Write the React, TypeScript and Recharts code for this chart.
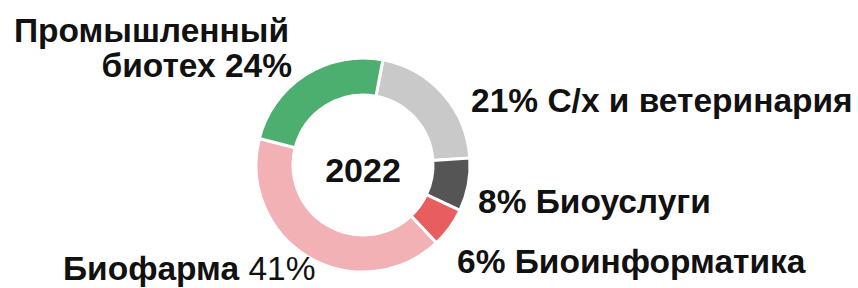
import React from 'react';
import { PieChart, Pie, Cell } from 'recharts';

// Segments, clockwise from the top
const categories = ['С/х и ветеринария', 'Биоуслуги', 'Биоинформатика', 'Биофарма', 'Промышленный биотех'];
const shares = [21, 8, 6, 41, 24];
const sliceColors = ['#c9c9c9', '#555555', '#e85d5d', '#f2b1b4', '#4cae6f'];
const centerLabel = '2022';

const data = categories.map((name, i) => ({ name, value: shares[i] }));

const FONT = '"Liberation Sans", Arial, Helvetica, sans-serif';
const CX = 363;
const CY = 165;

export default function App() {
  return (
    <div style={{ position: 'absolute', left: 0, top: 0, width: 858, height: 288, background: '#fff' }}>
      <PieChart width={858} height={288} margin={{ top: 0, right: 0, bottom: 0, left: 0 }}>
        <Pie
          data={data}
          dataKey="value"
          nameKey="name"
          cx={CX}
          cy={CY}
          innerRadius={70}
          outerRadius={107}
          startAngle={79.3}
          endAngle={-280.7}
          stroke="#fff"
          strokeWidth={3}
          isAnimationActive={false}
          label={false}
          labelLine={false}
        >
          {data.map((d, i) => (
            <Cell key={d.name} fill={sliceColors[i]} />
          ))}
        </Pie>
      </PieChart>

      {/* centre year + segment captions */}
      <svg width={858} height={288} style={{ position: 'absolute', left: 0, top: 0, pointerEvents: 'none' }}>
        <text x={CX} y={182} textAnchor="middle" fontFamily={FONT} fontSize={34} fontWeight={700} fill="#111">
          {centerLabel}
        </text>
        <g fontFamily={FONT} fontSize={33.5} fontWeight={700} fill="#111">
          <text x={289} y={42} textAnchor="end">Промышленный</text>
          <text x={292} y={77} textAnchor="end">биотех {shares[4]}%</text>
          <text x={471} y={112}>{shares[0]}% {categories[0]}</text>
          <text x={478} y={213}>{shares[1]}% {categories[1]}</text>
          <text x={457} y={273}>{shares[2]}% {categories[2]}</text>
          <text x={63} y={280}>
            {categories[3]} <tspan fontWeight={400}>{shares[3]}%</tspan>
          </text>
        </g>
      </svg>
    </div>
  );
}
